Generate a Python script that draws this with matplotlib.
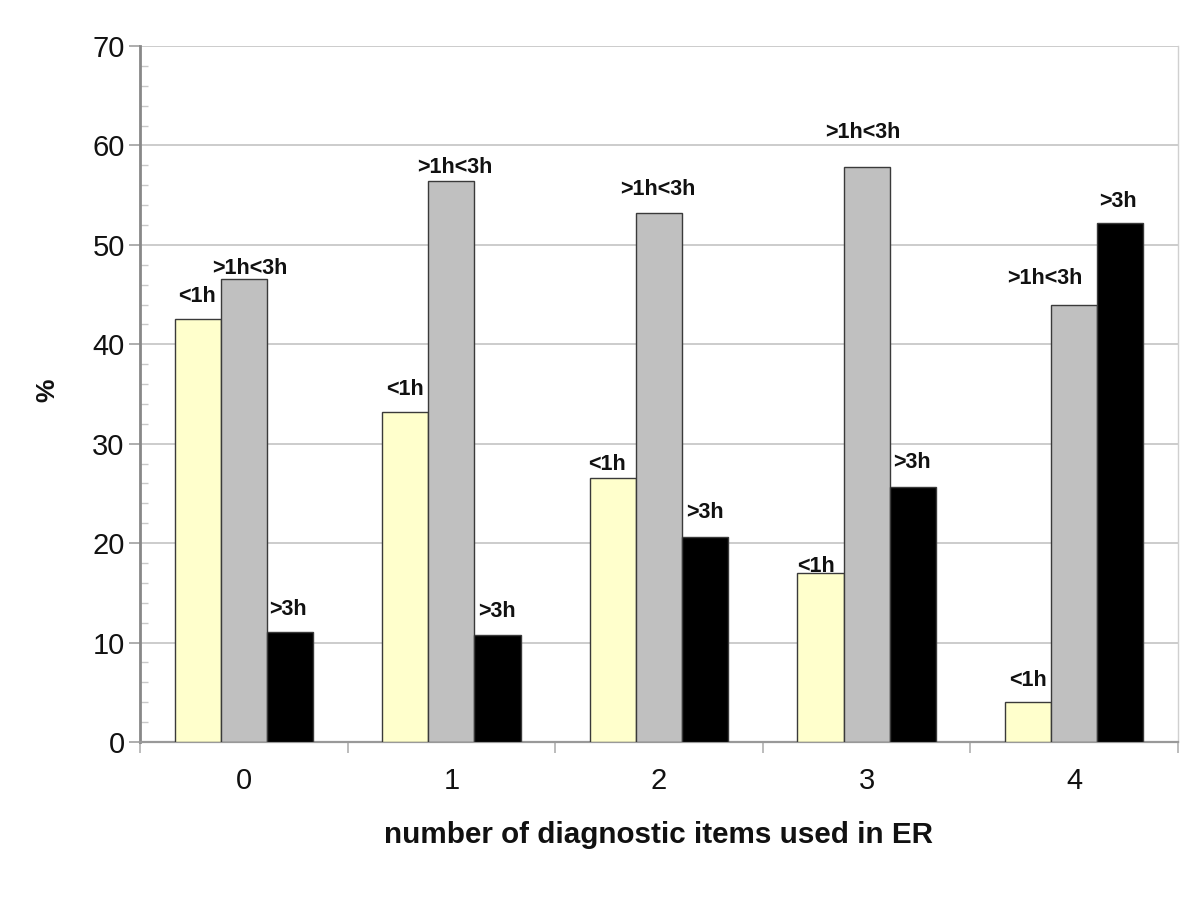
import matplotlib
matplotlib.use("Agg")
import matplotlib.pyplot as plt
import numpy as np

# ---- data ----
categories = ["0", "1", "2", "3", "4"]
series_names = ["<1h", ">1h<3h", ">3h"]
lt1h = [42.5, 33.2, 26.6, 17.0, 4.0]
h1to3 = [46.6, 56.4, 53.2, 57.8, 44.0]
gt3h = [11.1, 10.8, 20.6, 25.6, 52.2]
yticks = [0, 10, 20, 30, 40, 50, 60, 70]
xlabel = "number of diagnostic items used in ER"
ylabel = "%"

# ---- styling ----
colors = ["#FFFFCC", "#C0C0C0", "#000000"]
bar_w = 0.222
# manual label nudges (dx in group units, dy in % units) per series, per group
label_dx = [[-0.003, -0.002, -0.028, -0.022, 0.0],
            [0.03, 0.017, -0.005, -0.017, -0.141],
            [-0.009, -0.002, 0.0, -0.003, -0.011]]
label_dy = [[2.3, 2.3, 1.3, 0.7, 2.2],
            [1.0, 1.35, 2.35, 3.45, 2.6],
            [2.2, 2.3, 2.45, 2.55, 2.2]]

plt.rcParams['font.family'] = ['Liberation Sans', 'DejaVu Sans']

fig = plt.figure(figsize=(12, 9.08), dpi=100)
ax = fig.add_axes([140/1200, 1-742/908, (1178-140)/1200, (742-46)/908])

x = np.arange(len(categories))
all_series = [lt1h, h1to3, gt3h]
for k, vals in enumerate(all_series):
    pos = x + (k - 1) * bar_w
    ax.bar(pos, vals, width=bar_w, color=colors[k], edgecolor="#3a3a3a",
           linewidth=1.0, zorder=3)
    for i, v in enumerate(vals):
        ax.text(pos[i] + label_dx[k][i], v + label_dy[k][i], series_names[k],
                ha="center", va="center", fontsize=15.5, fontweight="bold",
                color="#111111", zorder=4)

ax.set_xlim(-0.5, len(categories) - 0.5)
ax.set_ylim(0, 70)

# gridlines
ax.set_yticks(yticks)
ax.set_yticks(np.arange(0, 71, 2), minor=True)
ax.yaxis.grid(True, which="major", color="#c8c8c8", linewidth=1.3, zorder=0)
ax.set_axisbelow(True)

ax.tick_params(axis="y", which="major", direction="out", length=8, width=1.2,
               color="#a0a0a0", labelsize=21, pad=3, labelcolor="#111111")
ax.tick_params(axis="y", which="minor", direction="in", length=6, width=1.0,
               color="#c8c8c8")

# x ticks at group boundaries, labels at centers
ax.set_xticks(np.arange(-0.5, len(categories), 1.0))
ax.set_xticklabels([])
ax.set_xticks(x, minor=True)
ax.set_xticklabels(categories, minor=True)
ax.tick_params(axis="x", which="major", direction="out", length=8, width=1.2,
               color="#b0b0b0")
ax.tick_params(axis="x", which="minor", length=0, labelsize=21, pad=18,
               labelcolor="#111111")

for side in ["top"]:
    ax.spines[side].set_visible(False)
ax.spines["left"].set_color("#888888")
ax.spines["left"].set_linewidth(2.0)
ax.spines["bottom"].set_color("#999999")
ax.spines["bottom"].set_linewidth(1.6)
ax.spines["right"].set_color("#d0d0d0")
ax.spines["right"].set_linewidth(1.0)

fig.text(659/1200, 1-835/908, xlabel, ha="center", va="center",
         fontsize=21.3, fontweight="bold", color="#111111")
fig.text(47/1200, 1-390/908, ylabel, ha="center", va="center", rotation=90,
         fontsize=19, fontweight="bold", color="#111111")

fig.savefig("out.png", dpi=100, facecolor="white")
